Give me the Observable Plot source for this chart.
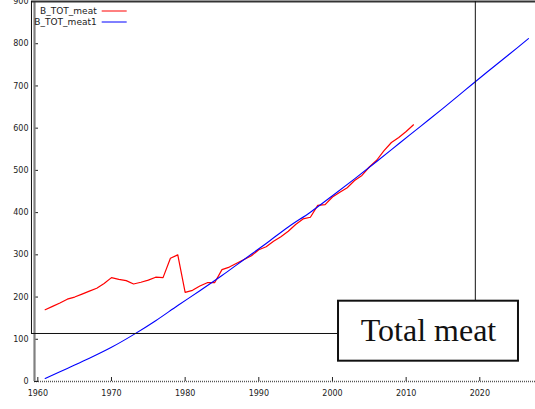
<!DOCTYPE html>
<html><head><meta charset="utf-8">
<script src="https://cdn.jsdelivr.net/npm/d3@7"></script>
<script src="https://cdn.jsdelivr.net/npm/@observablehq/plot@0.6"></script>
<style>body{margin:0;background:#fff}</style>
</head><body><div id="chart"></div>
<script>
// Observed series (B_TOT_meat)
const meatYears = [1961,1962,1963,1964,1965,1966,1967,1968,1969,1970,1971,1972,1973,1974,1975,1976,1977,1978,1979,1980,1981,1982,1983,1984,1985,1986,1987,1988,1989,1990,1991,1992,1993,1994,1995,1996,1997,1998,1999,2000,2001,2002,2003,2004,2005,2006,2007,2008,2009,2010,2011];
const meatValues = [170,178,186,195,200,207,214,221,232,246,242,239,231,235,240,247,246,292,300,211,216,226,234,234,265,271,280,289,298,312,319,332,343,356,372,385,389,417,419,437,448,459,476,488,508,524,547,566,578,592,608];
// Fitted series (B_TOT_meat1)
const fitYears = [1961,1964,1967,1970,1973,1976,1979,1982,1985,1988,1991,1994,1997,2000,2003,2006,2009,2012,2015,2018,2021,2024,2026.6];
const fitValues = [7,31,55,81,111,144,180,215,251,289,327,366,401,440,480,521,563,605,647,690,733,775,812];
const xTicks = [1960,1970,1980,1990,2000,2010,2020];
const yTicks = [0,100,200,300,400,500,600,700,800,900];
const seriesNames = ["B_TOT_meat","B_TOT_meat1"];
const seriesColors = ["#ff0000","#0000ff"];
const labelText = "Total meat";

const meat = meatYears.map((y,i)=>({year:y, value:meatValues[i]}));
const fit = fitYears.map((y,i)=>({year:y, value:fitValues[i]}));

// annotation geometry in data space
const xDomain = [1959.55, 2027.56];
const yDomain = [0, 900];
const callout = {left:1959.14, joinY:113.7, boxX1:2000.82, boxX2:2025.25, boxY1:48.1, boxY2:190.2, stemX:2019.39};

const legendMark = (index, scales, values, dims) => {
  const g = d3.create("svg:g");
  seriesNames.forEach((name,i)=>{
    const y = dims.marginTop + 10 + 11*i;
    g.append("text").attr("x", dims.marginLeft + 62.7).attr("y", y).attr("dy","0.35em")
      .attr("text-anchor","end").attr("font-size",9).attr("fill","#222").text(name);
    g.append("line").attr("x1", dims.marginLeft + 67.7).attr("x2", dims.marginLeft + 92.7)
      .attr("y1", y).attr("y2", y).attr("stroke", seriesColors[i]).attr("stroke-width",1);
  });
  return g.node();
};

const chart = Plot.plot({
  width: 535, height: 409,
  marginLeft: 34, marginRight: 0, marginTop: 1, marginBottom: 28,
  x: {domain: xDomain},
  y: {domain: yDomain},
  style: {fontFamily: "DejaVu Sans", fontSize: "8px", background: "white", overflow: "visible"},
  marks: [
    Plot.ruleY([0], {stroke: "#555", strokeDasharray: "1 1", strokeWidth: 1.5}),
    Plot.axisX(xTicks, {tickSize: -4, tickPadding: 13, tickFormat: d => String(d), stroke: "#222", fill: "#222"}),
    Plot.axisY(yTicks, {tickSize: -4, tickPadding: 10, stroke: "#222", fill: "#222"}),
    Plot.line(meat, {x: "year", y: "value", stroke: seriesColors[0], strokeWidth: 1.2}),
    Plot.line(fit, {x: "year", y: "value", stroke: seriesColors[1], strokeWidth: 1.1, curve: "catmull-rom"}),
    Plot.ruleX([xDomain[0]], {stroke: "#808080", strokeWidth: 2.2}),
    Plot.ruleY([yDomain[1]], {x1: callout.left, x2: xDomain[1], stroke: "#333", strokeWidth: 2}),
    Plot.ruleX([callout.left], {y1: callout.joinY, y2: yDomain[1], stroke: "#111", strokeWidth: 1}),
    Plot.ruleY([callout.joinY], {x1: callout.left, x2: callout.boxX1, stroke: "#111", strokeWidth: 1}),
    Plot.ruleX([callout.stemX], {y1: callout.boxY2, y2: yDomain[1], stroke: "#111", strokeWidth: 1}),
    Plot.rect([callout], {x1: "boxX1", x2: "boxX2", y1: "boxY1", y2: "boxY2", fill: "white", stroke: "#111", strokeWidth: 2}),
    Plot.text([labelText], {x: (callout.boxX1+callout.boxX2)/2, y: (callout.boxY1+callout.boxY2)/2, text: d => d, fontFamily: "Liberation Serif", fontSize: 32, fill: "#111", lineAnchor: "middle"}),
    legendMark
  ]
});
document.getElementById("chart").append(chart);
</script>
</body></html>
